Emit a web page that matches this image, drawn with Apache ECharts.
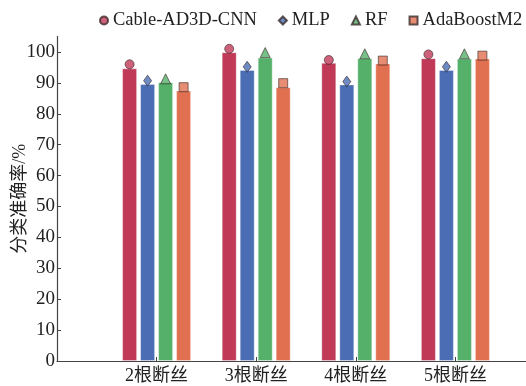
<!DOCTYPE html>
<html><head><meta charset="utf-8">
<script src="https://cdn.jsdelivr.net/npm/echarts@6/dist/echarts.min.js"></script>
<style>html,body{margin:0;padding:0;background:#fff}#c{width:526px;height:386px}</style>
</head><body><div id="c"></div>
<script>
const categories = ['', '2根断丝', '3根断丝', '4根断丝', '5根断丝', ''];
const models = ['Cable-AD3D-CNN', 'MLP', 'RF', 'AdaBoostM2'];
const barCNN = [null, 94.7, 99.9, 96.5, 98.0, null];
const barMLP = [null, 89.6, 94.2, 89.5, 94.2, null];
const barRF = [null, 90.2, 98.2, 98.0, 97.9, null];
const barAda = [null, 87.5, 88.6, 96.3, 97.9, null];
const ptCNN = [null, 96.0, 101.0, 97.4, 99.2, null];
const ptMLP = [null, 90.7, 95.2, 90.4, 95.2, null];
const ptRF = [null, 91.3, 99.8, 99.4, 99.4, null];
const ptAda = [null, 88.6, 89.9, 97.2, 98.8, null];
const yTicks = [0, 10, 20, 30, 40, 50, 60, 70, 80, 90, 100];

const colors = ['#c03a58', '#4a6db4', '#55b06a', '#e07050'];
const symbols = ['circle', 'diamond', 'triangle', 'rect'];
const bars = [barCNN, barMLP, barRF, barAda];
const pts = [ptCNN, ptMLP, ptRF, ptAda];
const font = '"Liberation Serif", "Times New Roman", serif';
const cjk = '"Liberation Serif", "Noto Sans CJK SC", serif';

const series = [];
bars.forEach((d, i) => {
  series.push({
    type: 'bar', name: 'bar' + i, data: d, barWidth: 15, barGap: '20%',
    itemStyle: { color: colors[i], borderColor: 'rgba(255,255,255,0.35)', borderWidth: 1 },
    silent: true, z: 2
  });
});
const offs = [-27, -9, 9, 27];
const sizes = [9, [8, 11], 10, 9];
pts.forEach((d, i) => {
  series.push({
    type: 'scatter', name: models[i], data: d, symbol: symbols[i],
    symbolSize: sizes[i],
    symbolOffset: [offs[i], 0],
    itemStyle: { color: colors[i], borderColor: '#3a2a2a', borderWidth: 0.8 },
    z: 5
  });
});

const chart = echarts.init(document.getElementById('c'));
chart.setOption({
  animation: false,
  backgroundColor: '#fff',
  legend: {
    data: models.map((m, i) => ({ name: m, icon: symbols[i] })),
    top: 6, left: 94, width: 440, itemWidth: 8, itemHeight: 8, itemGap: 21,
    textStyle: { fontFamily: font, fontSize: 18.5, color: '#222' }
  },
  grid: { left: 57, width: 498, top: 36.5, bottom: 25, outerBoundsMode: 'none', containLabel: false },
  xAxis: {
    type: 'category', data: categories, boundaryGap: false,
    axisLine: { lineStyle: { color: '#444', width: 1.2 } },
    axisTick: { inside: true, length: 4, lineStyle: { color: '#444' } },
    axisLabel: { fontFamily: cjk, fontSize: 18, color: '#222', margin: 6 }
  },
  yAxis: {
    type: 'value', min: 0, max: 105, interval: 10,
    name: '分类准确率/%', nameLocation: 'middle', nameGap: 28, nameMoveOverlap: false,
    nameTextStyle: { fontFamily: cjk, fontSize: 18, color: '#222' },
    splitLine: { show: false },
    axisLine: { show: true, lineStyle: { color: '#444', width: 1.2 } },
    axisTick: { show: true, inside: true, length: 4, lineStyle: { color: '#444' } },
    axisLabel: {
      fontFamily: font, fontSize: 19, color: '#222', margin: 2, showMaxLabel: false,
      formatter: v => yTicks.includes(v) ? String(v) : ''
    }
  },
  series: series
});
</script></body></html>
